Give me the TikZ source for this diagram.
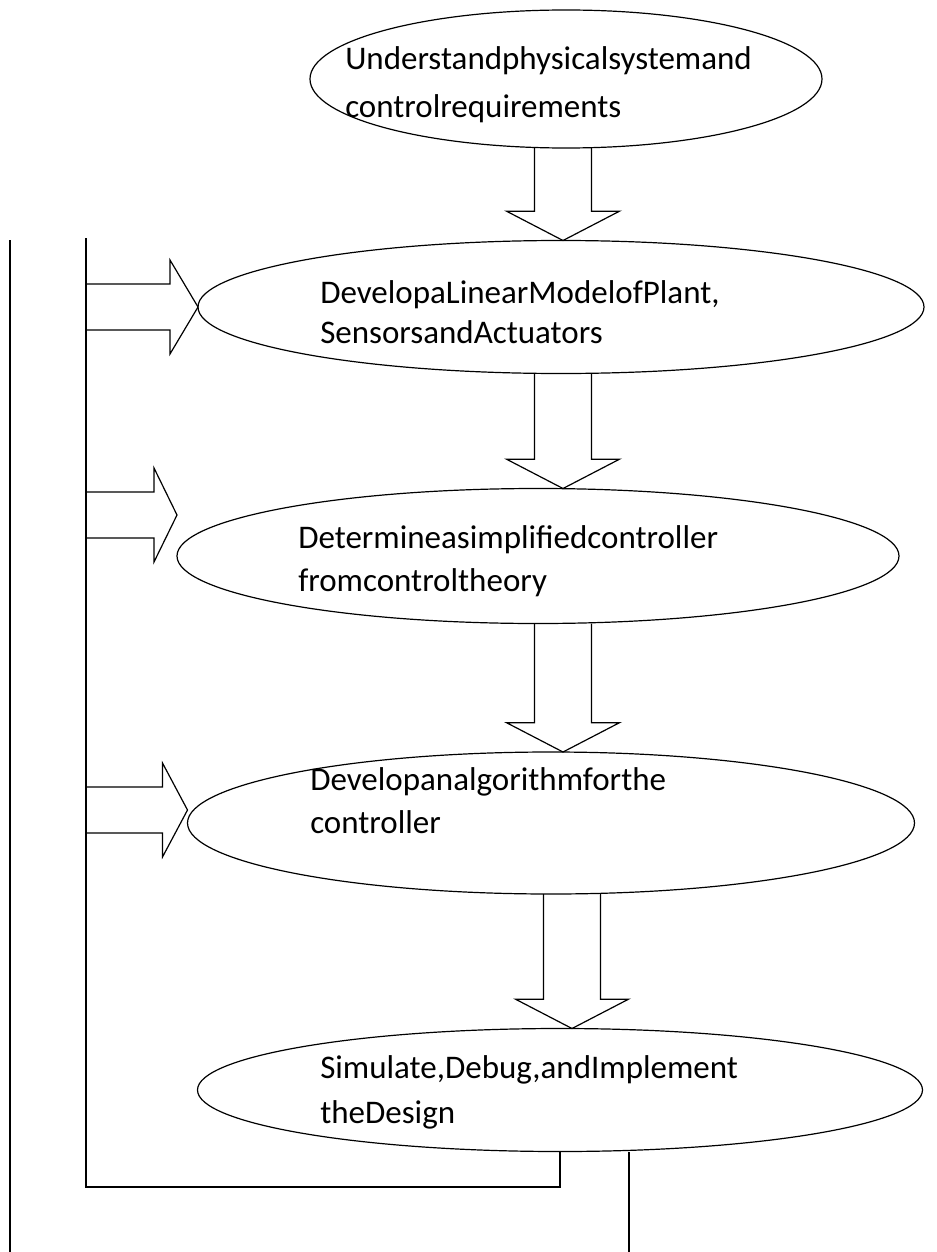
\documentclass[tikz,border=0pt]{standalone}
\usepackage{fontspec}
\setmainfont{Carlito}
\usetikzlibrary{calc, shapes.geometric}
\tikzset{
    stage/.style={ellipse, draw=black, line width=0.9pt, inner sep=0pt, outer sep=0pt},
    stagetext/.style={anchor=base west, inner sep=0pt, align=left, font=\fontsize{24.75}{32.25}\selectfont},
    blockline/.style={draw=black, line width=0.9pt, line join=miter},
    loopline/.style={draw=black, line width=1pt}
}

\begin{document}
\begin{tikzpicture}[x=0.75pt, y=-0.75pt]
    \useasboundingbox (0,0) rectangle (936,1252);
    % design stages
    \node[stage, minimum width=384pt, minimum height=103.5pt] (e1) at (566,79) {};
    \node[stage, minimum width=544.5pt, minimum height=99.75pt] (e2) at (561,307) {};
    \node[stage, minimum width=541.5pt, minimum height=101.25pt] (e3) at (538,556) {};
    \node[stage, minimum width=545.25pt, minimum height=106.5pt] (e4) at (551,823) {};
    \node[stage, minimum width=543.75pt, minimum height=92.25pt] (e5) at (560,1090) {};
    % base anchor sits on the last line
    \node[stagetext, font=\fontsize{24.75}{36}\selectfont] (t1) at (345,118) {Understandphysicalsystemand\\controlrequirements};
    \node[stagetext, font=\fontsize{24.75}{30}\selectfont] (t2) at (320,343) {DevelopaLinearModelofPlant,\\SensorsandActuators};
    \node[stagetext] (t3) at (298,591) {Determineasimplifiedcontroller\\fromcontroltheory};
    \node[stagetext] (t4) at (310,833) {Developanalgorithmforthe\\controller};
    \node[stagetext, font=\fontsize{24.75}{33.75}\selectfont] (t5) at (320,1123) {Simulate,Debug,andImplement\\theDesign};
    % block arrows down the chain
    \foreach \ax/\from/\to in {563/e1/e2, 563/e2/e3, 563/e3/e4, 572/e4/e5}
        \draw[blockline] let \p0=(\ax,0), \p1=(\from.south), \p2=(\to.north) in
            (\x0-21.4pt,\y1) -- (\x0-21.4pt,\y2+22pt) -- (\x0-42.4pt,\y2+22pt) -- (\x0,\y2)
            -- (\x0+42.4pt,\y2+22pt) -- (\x0+21.4pt,\y2+22pt) -- (\x0+21.4pt,\y1);
    % feedback loop
    \coordinate (fbtop) at (86,238);
    \coordinate (fbbot) at (86,1187);
    \draw[loopline] (fbtop) -- (fbbot) -| (e5.south);
    \foreach \tgt/\dy/\hl in {e2/0/28, e3/-41/23, e4/-13/25}
        \draw[blockline] let \p0=(fbtop), \p1=($(\tgt.west)+(0,\dy)$) in
            (\x0,\y1+17.25pt) -- (\x1-\hl*0.75pt,\y1+17.25pt) -- (\x1-\hl*0.75pt,\y1+35.25pt) -- (\x1,\y1)
            -- (\x1-\hl*0.75pt,\y1-35.25pt) -- (\x1-\hl*0.75pt,\y1-17.25pt) -- (\x0,\y1-17.25pt);
    \coordinate (outtop) at (10,240);
    \coordinate (outbot) at (10,1252);
    \draw[loopline] (outtop) -- (outbot);
    \coordinate (exit) at (629,1252);
    \draw[loopline] (exit |- e5.south) -- (exit);
\end{tikzpicture}
\end{document}
